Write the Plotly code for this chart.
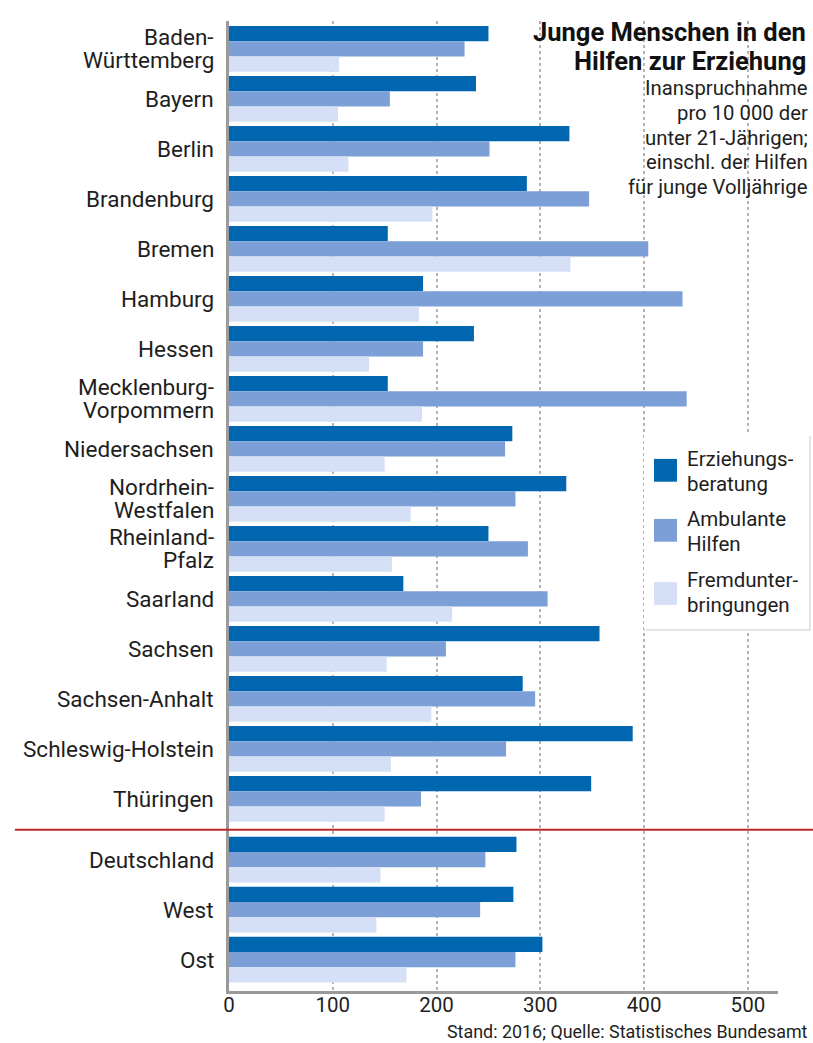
import plotly.graph_objects as go

categories = ["Baden-<br>Württemberg", "Bayern", "Berlin", "Brandenburg", "Bremen", "Hamburg",
              "Hessen", "Mecklenburg-<br>Vorpommern", "Niedersachsen", "Nordrhein-<br>Westfalen",
              "Rheinland-<br>Pfalz", "Saarland", "Sachsen", "Sachsen-Anhalt", "Schleswig-Holstein",
              "Thüringen", "Deutschland", "West", "Ost"]
erziehungsberatung = [250, 238, 328, 287, 153, 187, 236, 153, 273, 325, 250, 168, 357, 283, 389, 349, 277, 274, 302]
ambulante_hilfen = [227, 155, 251, 347, 404, 437, 187, 441, 266, 276, 288, 307, 209, 295, 267, 185, 247, 242, 276]
fremdunterbringungen = [106, 105, 115, 196, 329, 183, 135, 186, 150, 175, 157, 215, 152, 195, 156, 150, 146, 142, 171]
series_names = ["Erziehungs-<br>beratung", "Ambulante<br>Hilfen", "Fremdunter-<br>bringungen"]
colors = ["#0066b0", "#7b9fd6", "#d5e0f6"]
x_ticks = [0, 100, 200, 300, 400, 500]
title_lines = ["Junge Menschen in den", "Hilfen zur Erziehung"]
subtitle_lines = ["Inanspruchnahme", "pro 10 000 der", "unter 21-Jährigen;", "einschl. der Hilfen", "für junge Volljährige"]
source = "Stand: 2016; Quelle: Statistisches Bundesamt"

GAP = 0.215
ypos = [i if i < 16 else i + GAP for i in range(len(categories))]

FONT = "Roboto"
TXT = "#1e1e1e"
fig = go.Figure()
for vals, name, col in zip([erziehungsberatung, ambulante_hilfen, fremdunterbringungen], series_names, colors):
    fig.add_trace(go.Bar(x=vals, y=ypos, orientation="h", name=name, marker=dict(color=col, line=dict(width=0)),
                         showlegend=False))

fig.update_layout(
    width=813, height=1043, barmode="group", bargap=0.086, bargroupgap=0,
    margin=dict(l=229, r=35, t=21, b=52),
    plot_bgcolor="white", paper_bgcolor="white",
    font=dict(family=FONT, color=TXT),
    xaxis=dict(range=[0, 529], tickvals=x_ticks, showgrid=True, gridcolor="#b5b5b5", griddash="dot", gridwidth=1.5,
               zeroline=False, showline=True, linecolor="#9a9a9a", linewidth=2.5, ticks="",
               ticklabelstandoff=-6, tickfont=dict(size=20.5, family=FONT, color=TXT)),
    yaxis=dict(range=[18 + GAP + 0.628, -0.557], tickvals=ypos, showticklabels=False, showgrid=False,
               zeroline=False, showline=True, linecolor="#9a9a9a", linewidth=2.5, ticks=""),
)

def px_x(px):
    return (px - 229) / 549

def px_y(py):
    return (991 - py) / 970

# category labels (drawn per line for tight line spacing)
for cat, yv in zip(categories, ypos):
    lines = cat.split("<br>")
    n = len(lines)
    for k, line in enumerate(lines):
        off = (k - (n - 1) / 2) * 0.46
        fig.add_annotation(xref="paper", yref="y", x=px_x(216), y=yv + off, xanchor="right", yanchor="middle",
                           text=line, showarrow=False, font=dict(size=22.5, family=FONT, color=TXT))

# separator line
fig.add_shape(type="line", xref="paper", yref="y", x0=-0.39, x1=1.07, y0=15.617, y1=15.617,
              line=dict(color="#c0282d", width=2))

# title
for k, line in enumerate(title_lines):
    fig.add_annotation(xref="paper", yref="paper", x=px_x(808), y=px_y(32 + 29 * k), xanchor="right",
                       yanchor="middle", text="<b>" + line + "</b>", showarrow=False,
                       font=dict(size=25.5, family=FONT, color="#111"))
for k, line in enumerate(subtitle_lines):
    fig.add_annotation(xref="paper", yref="paper", x=px_x(810), y=px_y(88 + 24.8 * k), xanchor="right",
                       yanchor="middle", text=line, showarrow=False, font=dict(size=20.3, family=FONT, color=TXT))

# legend box
fig.add_shape(type="rect", xref="paper", yref="paper", x0=px_x(646), x1=px_x(811), y0=px_y(631), y1=px_y(436),
              fillcolor="#e4e4e4", line=dict(width=0))
fig.add_shape(type="rect", xref="paper", yref="paper", x0=px_x(644), x1=px_x(809), y0=px_y(629), y1=px_y(434),
              fillcolor="white", line=dict(width=0))
for i, (name, col) in enumerate(zip(series_names, colors)):
    sq = [470.3, 530.3, 593.5][i]
    fig.add_shape(type="rect", xref="paper", yref="paper", x0=px_x(654), x1=px_x(677), y0=px_y(sq + 11.4),
                  y1=px_y(sq - 11.4), fillcolor=col, line=dict(width=0))
    cy = [471.5, 531.5, 592.5][i]
    for k, line in enumerate(name.split("<br>")):
        fig.add_annotation(xref="paper", yref="paper", x=px_x(685), y=px_y(cy - 12.5 + 25 * k), xanchor="left",
                           yanchor="middle", text=line, showarrow=False,
                           font=dict(size=20.5, family=FONT, color=TXT))

# footer
fig.add_annotation(xref="paper", yref="paper", x=px_x(810), y=px_y(1031), xanchor="right", yanchor="middle",
                   text=source, showarrow=False, font=dict(size=17.9, family=FONT, color=TXT))

fig.write_html("out.html", config={"displayModeBar": False})

# remove default page margins so the figure sits at the window origin
with open("out.html", "r", encoding="utf-8") as f:
    html = f.read()
html = html.replace("<head>", "<head><style>html,body{margin:0;padding:0;overflow:hidden;}</style>", 1)
with open("out.html", "w", encoding="utf-8") as f:
    f.write(html)
